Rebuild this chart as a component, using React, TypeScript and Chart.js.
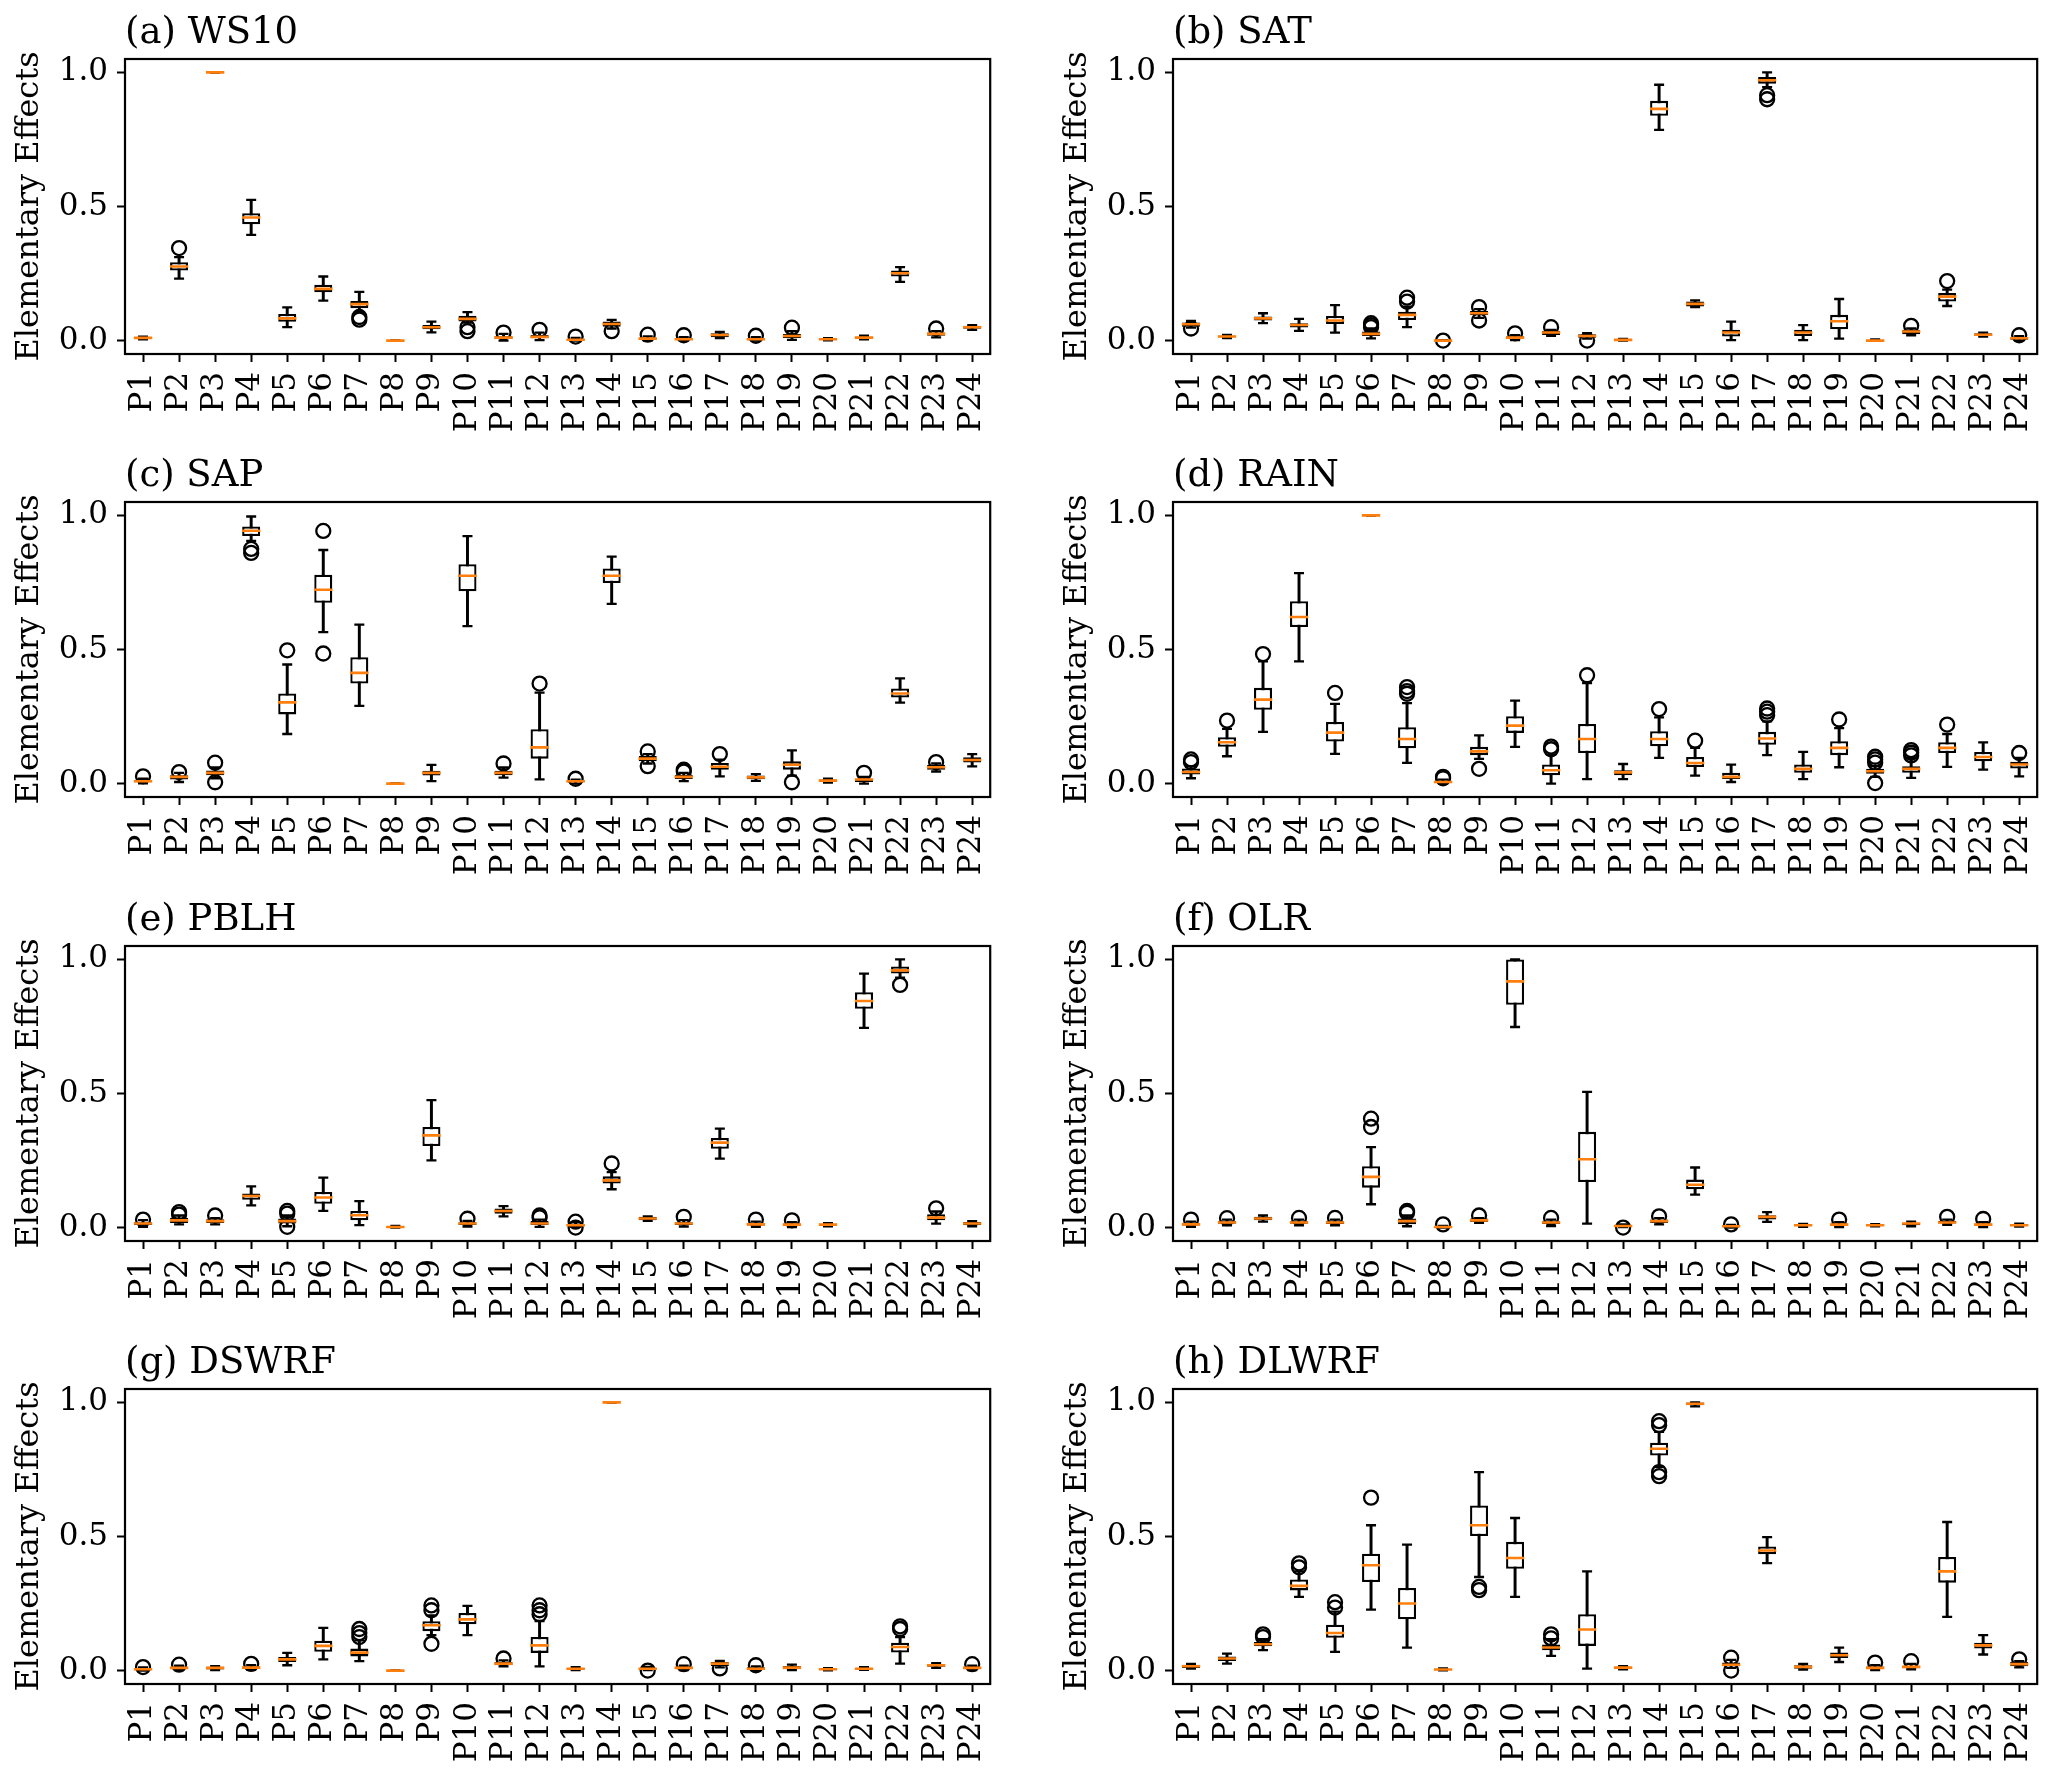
import React, { useEffect, useRef } from "react";
import { Chart, registerables } from "chart.js";

Chart.register(...registerables);

const FONT = "DejaVu Serif";

const PARAMS = ["P1","P2","P3","P4","P5","P6","P7","P8","P9","P10","P11","P12","P13","P14","P15","P16","P17","P18","P19","P20","P21","P22","P23","P24"];
const Y_TICKS = [0, 0.5, 1.0];

// (a) WS10
const WS10_LO = [0.005,0.231,1.0,0.394,0.05,0.149,0.106,0.0,0.031,0.067,0.0,0.002,0.0,0.045,0.0,0.0,0.009,0.0,0.003,0.001,0.005,0.219,0.012,0.04];
const WS10_Q1 = [0.007,0.261,1.0,0.434,0.07,0.18,0.121,0.0,0.042,0.071,0.006,0.009,0.001,0.052,0.004,0.002,0.012,0.002,0.01,0.003,0.008,0.239,0.018,0.044];
const WS10_MED = [0.01,0.276,1.0,0.459,0.083,0.193,0.136,0.0,0.05,0.081,0.011,0.014,0.003,0.062,0.0075,0.005,0.021,0.005,0.017,0.005,0.011,0.251,0.025,0.05];
const WS10_Q3 = [0.013,0.292,1.0,0.475,0.0995,0.208,0.148,0.0,0.058,0.093,0.016,0.021,0.006,0.071,0.011,0.008,0.027,0.009,0.025,0.007,0.014,0.261,0.03,0.055];
const WS10_HI = [0.015,0.311,1.0,0.525,0.124,0.239,0.182,0.0,0.071,0.106,0.025,0.03,0.01,0.077,0.016,0.013,0.032,0.013,0.035,0.009,0.018,0.274,0.035,0.058];
const WS10_OUT = [[],[0.345],[],[],[],[],[0.078,0.088],[],[],[0.035,0.05],[0.03],[0.04],[0.015],[0.035],[0.022],[0.02],[],[0.018],[0.048],[],[],[],[0.045],[]];

// (b) SAT
const SAT_LO = [0.048,0.009,0.065,0.036,0.03,0.008,0.05,0.0,0.085,0.002,0.018,0.007,0.0,0.786,0.125,0.002,0.945,0.002,0.007,0.0,0.02,0.129,0.015,0.0];
const SAT_Q1 = [0.052,0.012,0.075,0.049,0.062,0.017,0.077,0.0,0.095,0.008,0.021,0.011,0.001,0.838,0.127,0.015,0.958,0.017,0.042,0.0,0.024,0.146,0.017,0.003];
const SAT_MED = [0.061,0.015,0.083,0.058,0.075,0.025,0.096,0.0,0.102,0.011,0.03,0.017,0.0025,0.864,0.137,0.03,0.971,0.03,0.072,0.0,0.034,0.164,0.022,0.009];
const SAT_Q3 = [0.067,0.018,0.09,0.065,0.092,0.034,0.108,0.001,0.11,0.016,0.036,0.024,0.004,0.894,0.146,0.04,0.983,0.04,0.096,0.002,0.04,0.177,0.027,0.012];
const SAT_HI = [0.073,0.021,0.102,0.081,0.132,0.045,0.127,0.002,0.117,0.02,0.04,0.028,0.006,0.954,0.15,0.071,1.0,0.058,0.155,0.004,0.045,0.19,0.03,0.017];
const SAT_OUT = [[0.045],[],[],[],[],[0.05,0.058,0.065],[0.145,0.16],[0.0],[0.075,0.125],[0.027],[0.05],[0.0],[],[],[],[],[0.9,0.915],[],[],[],[0.055],[0.222],[],[0.02]];

// (c) SAP
const SAP_LO = [0.001,0.006,0.02,0.905,0.185,0.565,0.29,0.0,0.009,0.587,0.022,0.016,0.0,0.67,0.075,0.009,0.027,0.01,0.03,0.004,0.0,0.302,0.045,0.064];
const SAP_Q1 = [0.005,0.015,0.031,0.923,0.258,0.674,0.373,0.0,0.03,0.717,0.031,0.093,0.005,0.748,0.083,0.017,0.052,0.016,0.052,0.007,0.006,0.321,0.052,0.079];
const SAP_MED = [0.009,0.025,0.04,0.943,0.303,0.723,0.413,0.0,0.04,0.775,0.04,0.135,0.009,0.775,0.093,0.025,0.063,0.023,0.07,0.011,0.015,0.336,0.061,0.088];
const SAP_Q3 = [0.013,0.031,0.049,0.959,0.336,0.779,0.471,0.0,0.048,0.818,0.048,0.203,0.012,0.802,0.103,0.033,0.077,0.03,0.083,0.015,0.018,0.355,0.07,0.098];
const SAP_HI = [0.018,0.04,0.06,0.996,0.444,0.871,0.593,0.0,0.07,0.923,0.06,0.339,0.015,0.846,0.11,0.04,0.089,0.035,0.124,0.018,0.025,0.392,0.075,0.11];
const SAP_OUT = [[0.027],[0.043],[0.078,0.005],[0.86,0.875],[0.497],[0.942,0.485],[],[],[],[],[0.075],[0.373],[0.018],[],[0.12,0.065],[0.045,0.052],[0.11],[],[0.005],[],[0.04],[],[0.08],[]];

// (d) RAIN
const RAIN_LO = [0.02,0.102,0.193,0.456,0.111,1.0,0.077,0.0,0.092,0.137,0.0,0.017,0.017,0.096,0.03,0.006,0.106,0.017,0.061,0.025,0.021,0.062,0.052,0.027];
const RAIN_Q1 = [0.034,0.137,0.275,0.584,0.157,1.0,0.132,0.003,0.106,0.189,0.031,0.114,0.031,0.139,0.062,0.017,0.145,0.04,0.106,0.037,0.04,0.114,0.083,0.056];
const RAIN_MED = [0.043,0.154,0.313,0.621,0.19,1.0,0.166,0.006,0.12,0.216,0.05,0.166,0.042,0.166,0.077,0.025,0.168,0.055,0.133,0.046,0.055,0.133,0.099,0.071];
const RAIN_Q3 = [0.056,0.173,0.357,0.68,0.23,1.0,0.21,0.01,0.137,0.251,0.071,0.222,0.05,0.195,0.099,0.04,0.193,0.071,0.158,0.055,0.065,0.154,0.118,0.081];
const RAIN_HI = [0.065,0.204,0.456,0.785,0.297,1.0,0.3,0.015,0.18,0.309,0.108,0.375,0.073,0.247,0.133,0.071,0.232,0.118,0.207,0.065,0.096,0.185,0.154,0.096];
const RAIN_OUT = [[0.08,0.09],[0.235],[0.483],[],[0.338],[],[0.335,0.345,0.36],[0.02,0.025],[0.055],[],[0.128,0.138],[0.404],[],[0.278],[0.16],[],[0.255,0.268,0.28],[],[0.239],[0.078,0.09,0.1,0.002],[0.105,0.115,0.125],[0.22],[],[0.114]];

// (e) PBLH
const PBLH_LO = [0.003,0.012,0.012,0.083,0.005,0.062,0.009,0.0,0.251,0.004,0.042,0.003,0.003,0.143,0.025,0.004,0.257,0.003,0.002,0.005,0.745,0.932,0.015,0.005];
const PBLH_Q1 = [0.01,0.017,0.017,0.104,0.015,0.089,0.027,0.0,0.304,0.01,0.052,0.01,0.004,0.164,0.027,0.01,0.294,0.008,0.006,0.008,0.816,0.947,0.027,0.009];
const PBLH_MED = [0.015,0.027,0.024,0.118,0.024,0.112,0.046,0.002,0.344,0.015,0.062,0.015,0.009,0.176,0.034,0.015,0.317,0.012,0.011,0.011,0.845,0.959,0.037,0.015];
const PBLH_Q3 = [0.02,0.036,0.031,0.127,0.034,0.133,0.062,0.004,0.375,0.02,0.071,0.025,0.013,0.191,0.04,0.02,0.334,0.017,0.015,0.014,0.878,0.974,0.05,0.021];
const PBLH_HI = [0.028,0.045,0.035,0.154,0.045,0.186,0.099,0.006,0.475,0.025,0.08,0.03,0.02,0.207,0.042,0.028,0.369,0.022,0.02,0.017,0.947,1.0,0.06,0.024];
const PBLH_OUT = [[0.03],[0.048,0.058],[0.045],[],[0.052,0.062,0.003],[],[],[],[],[0.033],[],[0.038,0.045],[0.022,0.0],[0.239],[],[0.04],[],[0.03],[0.027],[],[],[0.905],[0.072],[]];

// (f) OLR
const OLR_LO = [0.003,0.008,0.022,0.008,0.008,0.087,0.005,0.0,0.018,0.748,0.006,0.015,0.002,0.012,0.123,0.0,0.021,0.003,0.002,0.005,0.005,0.01,0.002,0.004];
const OLR_Q1 = [0.008,0.014,0.027,0.014,0.013,0.149,0.012,0.0,0.021,0.831,0.013,0.17,0.003,0.017,0.143,0.002,0.03,0.006,0.007,0.007,0.009,0.015,0.006,0.006];
const OLR_MED = [0.012,0.019,0.034,0.019,0.019,0.189,0.024,0.002,0.027,0.918,0.019,0.255,0.006,0.024,0.16,0.005,0.04,0.009,0.011,0.009,0.015,0.019,0.011,0.009];
const OLR_Q3 = [0.017,0.024,0.04,0.024,0.024,0.229,0.034,0.004,0.034,1.0,0.024,0.357,0.008,0.03,0.179,0.007,0.046,0.011,0.015,0.011,0.017,0.025,0.015,0.012];
const OLR_HI = [0.022,0.03,0.045,0.03,0.03,0.3,0.045,0.006,0.035,1.0,0.03,0.506,0.012,0.035,0.224,0.01,0.058,0.014,0.02,0.013,0.022,0.03,0.02,0.015];
const OLR_OUT = [[0.03],[0.035],[],[0.036],[0.036],[0.406,0.375],[0.055,0.062],[0.012],[0.045],[],[0.036],[],[0.0],[0.042],[],[0.012],[],[],[0.03],[],[],[0.04],[0.032],[]];

// (g) DSWRF
const DSWRF_LO = [0.0,0.002,0.002,0.003,0.02,0.042,0.035,0.0,0.132,0.132,0.016,0.016,0.002,1.0,0.002,0.002,0.012,0.001,0.002,0.001,0.003,0.026,0.01,0.002];
const DSWRF_Q1 = [0.002,0.006,0.004,0.008,0.032,0.07,0.053,0.0,0.147,0.173,0.02,0.066,0.004,1.0,0.003,0.006,0.017,0.004,0.005,0.003,0.005,0.067,0.014,0.006];
const DSWRF_MED = [0.005,0.01,0.01,0.011,0.042,0.092,0.067,0.0,0.169,0.191,0.026,0.094,0.007,1.0,0.007,0.01,0.026,0.007,0.011,0.005,0.007,0.088,0.02,0.01];
const DSWRF_Q3 = [0.008,0.013,0.014,0.015,0.051,0.111,0.082,0.0,0.184,0.215,0.032,0.125,0.01,1.0,0.01,0.014,0.032,0.012,0.017,0.007,0.01,0.104,0.024,0.013];
const DSWRF_HI = [0.012,0.018,0.017,0.02,0.066,0.159,0.113,0.0,0.206,0.241,0.038,0.185,0.013,1.0,0.014,0.018,0.036,0.016,0.022,0.009,0.013,0.125,0.028,0.018];
const DSWRF_OUT = [[0.013],[0.022],[],[0.025],[],[],[0.125,0.14,0.155],[],[0.225,0.243,0.1],[],[0.045],[0.21,0.225,0.243],[],[],[0.0],[0.024],[0.008],[0.02],[],[],[],[0.155,0.165],[],[0.024]];

// (h) DLWRF
const DLWRF_LO = [0.007,0.026,0.076,0.275,0.07,0.227,0.086,0.001,0.349,0.275,0.055,0.007,0.005,0.76,0.985,0.01,0.401,0.004,0.032,0.002,0.005,0.2,0.06,0.012];
const DLWRF_Q1 = [0.01,0.036,0.091,0.299,0.122,0.33,0.191,0.002,0.502,0.38,0.076,0.092,0.008,0.802,0.989,0.016,0.434,0.007,0.047,0.006,0.009,0.328,0.082,0.016];
const DLWRF_MED = [0.016,0.045,0.098,0.316,0.14,0.393,0.25,0.004,0.542,0.42,0.086,0.153,0.011,0.827,0.995,0.022,0.448,0.014,0.057,0.01,0.014,0.37,0.094,0.024];
const DLWRF_Q3 = [0.022,0.053,0.107,0.34,0.171,0.436,0.308,0.006,0.616,0.48,0.097,0.21,0.014,0.85,1.0,0.03,0.463,0.02,0.067,0.015,0.018,0.424,0.104,0.032];
const DLWRF_HI = [0.025,0.063,0.117,0.37,0.22,0.542,0.47,0.008,0.74,0.569,0.117,0.37,0.017,0.89,1.0,0.04,0.498,0.025,0.086,0.02,0.025,0.554,0.132,0.035];
const DLWRF_OUT = [[],[],[0.125,0.135],[0.385,0.4],[0.235,0.255],[0.645],[],[],[0.3,0.312],[],[0.12,0.135],[],[],[0.915,0.93,0.725,0.74],[],[0.048,0.0],[],[],[],[0.03],[0.035],[],[],[0.042]];

type PanelDef = { title: string; lo: number[]; q1: number[]; med: number[]; q3: number[]; hi: number[]; out: number[][] };

const PANELS: PanelDef[] = [
  { title: "(a) WS10", lo: WS10_LO, q1: WS10_Q1, med: WS10_MED, q3: WS10_Q3, hi: WS10_HI, out: WS10_OUT },
  { title: "(b) SAT", lo: SAT_LO, q1: SAT_Q1, med: SAT_MED, q3: SAT_Q3, hi: SAT_HI, out: SAT_OUT },
  { title: "(c) SAP", lo: SAP_LO, q1: SAP_Q1, med: SAP_MED, q3: SAP_Q3, hi: SAP_HI, out: SAP_OUT },
  { title: "(d) RAIN", lo: RAIN_LO, q1: RAIN_Q1, med: RAIN_MED, q3: RAIN_Q3, hi: RAIN_HI, out: RAIN_OUT },
  { title: "(e) PBLH", lo: PBLH_LO, q1: PBLH_Q1, med: PBLH_MED, q3: PBLH_Q3, hi: PBLH_HI, out: PBLH_OUT },
  { title: "(f) OLR", lo: OLR_LO, q1: OLR_Q1, med: OLR_MED, q3: OLR_Q3, hi: OLR_HI, out: OLR_OUT },
  { title: "(g) DSWRF", lo: DSWRF_LO, q1: DSWRF_Q1, med: DSWRF_MED, q3: DSWRF_Q3, hi: DSWRF_HI, out: DSWRF_OUT },
  { title: "(h) DLWRF", lo: DLWRF_LO, q1: DLWRF_Q1, med: DLWRF_MED, q3: DLWRF_Q3, hi: DLWRF_HI, out: DLWRF_OUT },
];

const framePlugin = {
  id: "frame",
  afterDatasetsDraw(chart: any) {
    const { ctx, chartArea } = chart;
    const { left, top, right, bottom } = chartArea;
    ctx.save();
    ctx.strokeStyle = "#000";
    ctx.lineWidth = 2.2;
    ctx.strokeRect(left, top, right - left, bottom - top);
    ctx.restore();
  },
};

function Panel({ panel, left, top, width, height, padRight }: { panel: PanelDef; left: number; top: number; width: number; height: number; padRight: number }) {
  const ref = useRef<HTMLCanvasElement>(null);
  useEffect(() => {
    const canvas = ref.current;
    if (!canvas) return;
    const boxData = panel.q1.map((v, i) => [v, panel.q3[i]]);
    const whiskerData = panel.lo.map((v, i) => [v, panel.hi[i]]);
    const outData: { x: string; y: number }[] = [];
    panel.out.forEach((arr, i) => arr.forEach((v) => outData.push({ x: PARAMS[i], y: v })));
    const pointLine = (data: any, radius: number, color: string, bw: number, order: number) => ({
      type: "line" as const,
      data,
      showLine: false,
      pointStyle: "line",
      pointRadius: radius,
      pointBorderWidth: bw,
      pointBorderColor: color,
      pointBackgroundColor: color,
      borderColor: color,
      order,
    });
    const chart = new Chart(canvas, {
      type: "bar",
      data: {
        labels: PARAMS,
        datasets: [
          { type: "bar", data: whiskerData as any, backgroundColor: "#000", borderWidth: 0, barThickness: 2.3, grouped: false, order: 6 } as any,
          { type: "bar", data: boxData as any, backgroundColor: "#fff", borderColor: "#000", borderWidth: 2.3, borderSkipped: false, barPercentage: 0.5, categoryPercentage: 1, grouped: false, order: 5 } as any,
          pointLine(panel.lo, 5, "#000", 2.3, 4) as any,
          pointLine(panel.hi, 5, "#000", 2.3, 3) as any,
          pointLine(panel.med, 9.2, "#ff7f0e", 2.6, 1) as any,
          {
            type: "line",
            data: outData as any,
            showLine: false,
            pointStyle: "circle",
            pointRadius: 7,
            pointBorderWidth: 2.3,
            pointBorderColor: "#000",
            pointBackgroundColor: "rgba(0,0,0,0)",
            borderColor: "#000",
            order: 2,
          } as any,
        ],
      },
      options: {
        animation: false,
        responsive: false,
        maintainAspectRatio: false,
        events: [],
        layout: { padding: { left: 0, right: padRight, top: 0, bottom: 0 } },
        plugins: {
          legend: { display: false },
          tooltip: { enabled: false },
          title: {
            display: true,
            text: panel.title,
            align: "start",
            fullSize: false,
            color: "#000",
            font: { family: FONT, size: 37, weight: "normal", lineHeight: 1 },
            padding: { top: 15, bottom: 7 },
          },
        },
        scales: {
          x: {
            type: "category",
            offset: true,
            grid: { display: true, drawOnChartArea: false, drawTicks: true, tickLength: 8, tickWidth: 2, tickColor: "#000", offset: false },
            border: { display: false },
            ticks: { autoSkip: false, minRotation: 90, maxRotation: 90, color: "#000", font: { family: FONT, size: 31 }, padding: 10 },
            afterFit: (s: any) => { s.height = 89; },
          },
          y: {
            type: "linear",
            min: -0.05,
            max: 1.05,
            grid: { drawOnChartArea: false, drawTicks: true, tickLength: 8, tickWidth: 2, tickColor: "#000" },
            border: { display: false },
            ticks: { color: "#000", font: { family: FONT, size: 31 }, padding: 9, callback: (v: any) => Number(v).toFixed(1) },
            afterBuildTicks: (s: any) => { s.ticks = Y_TICKS.map((v) => ({ value: v })); },
            afterFit: (s: any) => { s.width = 125; },
            title: { display: true, text: "Elementary Effects", color: "#000", font: { family: FONT, size: 32 }, padding: { top: 10, bottom: 0 } },
          },
        },
      } as any,
      plugins: [framePlugin],
    });
    return () => chart.destroy();
  }, [panel, padRight]);
  return (
    <canvas
      ref={ref}
      width={width}
      height={height}
      style={{ position: "absolute", left, top, width, height }}
    />
  );
}

export default function App() {
  return (
    <div style={{ position: "absolute", left: 0, top: 0, width: 2067, height: 1779, background: "#fff", overflow: "hidden" }}>
      {PANELS.map((p, i) => {
        const col = i % 2;
        const row = Math.floor(i / 2);
        const left = col === 0 ? 0 : 1048;
        const width = col === 0 ? 1020 : 1019;
        const padRight = col === 0 ? 21 : 18;
        const top = Math.round(row * 443.33);
        return <Panel key={p.title} panel={p} left={left} top={top} width={width} height={443} padRight={padRight} />;
      })}
    </div>
  );
}
